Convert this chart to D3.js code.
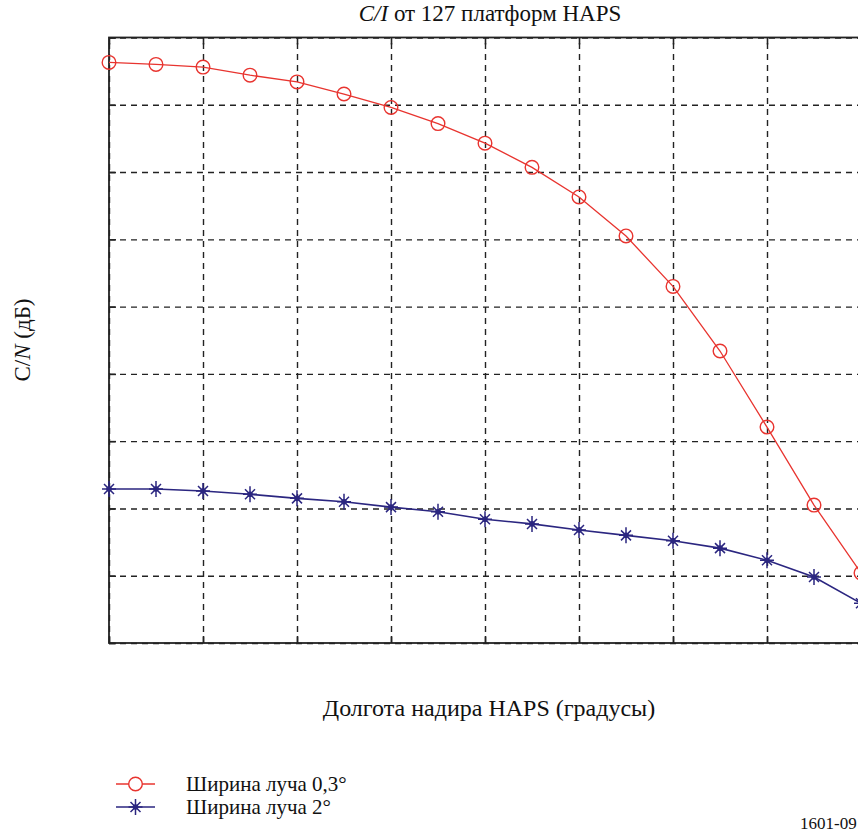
<!DOCTYPE html>
<html>
<head>
<meta charset="utf-8">
<script src="https://cdn.jsdelivr.net/npm/d3@7"></script>
<style>
  html, body { margin: 0; padding: 0; background: #fff; }
  svg { display: block; overflow: hidden; }
  text { font-family: "Liberation Serif", "DejaVu Serif", serif; fill: #111; }
</style>
</head>
<body>
<svg id="chart"></svg>
<script>
// longitude steps (grid units, no labels shown on the original)
const longitudes = [0, 0.5, 1, 1.5, 2, 2.5, 3, 3.5, 4, 4.5, 5, 5.5, 6, 6.5, 7, 7.5, 8];
// C/N, in grid units (no tick labels shown)
const beam03 = [8.63, 8.60, 8.56, 8.44, 8.34, 8.16, 7.96, 7.72, 7.43, 7.07, 6.63, 6.05, 5.30, 4.34, 3.21, 2.05, 1.04];
const beam2 = [2.29, 2.29, 2.26, 2.21, 2.15, 2.10, 2.02, 1.95, 1.84, 1.77, 1.68, 1.60, 1.52, 1.41, 1.23, 0.98, 0.59];
const xTicks = [0, 1, 2, 3, 4, 5, 6, 7, 8];
const yTicks = [0, 1, 2, 3, 4, 5, 6, 7, 8, 9];
const seriesNames = ["Ширина луча 0,3°", "Ширина луча 2°"];

const W = 858, H = 834;
const margin = {top: 37.5, right: -3, bottom: 191, left: 109};
const innerW = W - margin.left - margin.right;
const innerH = H - margin.top - margin.bottom;

const red = "#e8342f", blue = "#2b2680";

const svg = d3.select("#chart").attr("width", W).attr("height", H);
const g = svg.append("g").attr("transform", `translate(${margin.left},${margin.top})`);

const x = d3.scaleLinear().domain([0, 8]).range([0, innerW]);
const y = d3.scaleLinear().domain([0, 9]).range([innerH, 0]);

// dashed grid
g.append("g")
  .attr("transform", `translate(0,${innerH})`)
  .call(d3.axisBottom(x).tickValues(xTicks).tickSize(-innerH).tickFormat(""))
  .call(a => a.select(".domain").remove())
  .selectAll("line").attr("stroke", "#222").attr("stroke-width", 1.4).attr("stroke-dasharray", "6,5");
g.append("g")
  .call(d3.axisLeft(y).tickValues(yTicks).tickSize(-innerW).tickFormat(""))
  .call(a => a.select(".domain").remove())
  .selectAll("line").attr("stroke", "#222").attr("stroke-width", 1.4).attr("stroke-dasharray", "6,5");

// inward solid ticks
function ticks(axis, tr) {
  const a = g.append("g").attr("transform", tr)
    .call(axis.tickSizeInner(-7).tickSizeOuter(0).tickFormat(""));
  a.select(".domain").remove();
  a.selectAll("line").attr("stroke", "#222").attr("stroke-width", 1.6);
}
ticks(d3.axisBottom(x).tickValues(xTicks), `translate(0,${innerH})`);
ticks(d3.axisTop(x).tickValues(xTicks), "translate(0,0)");
ticks(d3.axisLeft(y).tickValues(yTicks), "translate(0,0)");

// frame
g.append("rect").attr("width", innerW).attr("height", innerH)
  .attr("fill", "none").attr("stroke", "#222").attr("stroke-width", 1.8);

const line = d3.line().x((d, i) => x(longitudes[i])).y(d => y(d));

// red series
g.append("path").datum(beam03).attr("d", line)
  .attr("fill", "none").attr("stroke", red).attr("stroke-width", 1.3);
g.selectAll(".c").data(beam03).join("circle")
  .attr("cx", (d, i) => x(longitudes[i])).attr("cy", d => y(d)).attr("r", 6.8)
  .attr("fill", "none").attr("stroke", red).attr("stroke-width", 1.4);

// blue series
const star = "M0,-8V8M-7,0H7M-5,-5L5,5M-5,5L5,-5";
g.append("path").datum(beam2).attr("d", line)
  .attr("fill", "none").attr("stroke", blue).attr("stroke-width", 1.6);
const st = g.selectAll(".s").data(beam2).join("g")
  .attr("transform", (d, i) => `translate(${x(longitudes[i])},${y(d)})`);
st.append("path").attr("d", star).attr("stroke", blue).attr("stroke-width", 1.5).attr("fill", "none");
st.append("circle").attr("r", 2.8).attr("fill", blue);

// texts
const title = svg.append("text").attr("x", 490).attr("y", 21)
  .attr("text-anchor", "middle").attr("font-size", 23);
title.append("tspan").attr("font-style", "italic").text("C/I");
title.append("tspan").text(" от 127 платформ HAPS");

svg.append("text").attr("x", 489).attr("y", 716)
  .attr("text-anchor", "middle").attr("font-size", 24)
  .text("Долгота надира HAPS (градусы)");

const yl = svg.append("text").attr("transform", "translate(30,340) rotate(-90)")
  .attr("text-anchor", "middle").attr("font-size", 23);
yl.append("tspan").text("C/");
yl.append("tspan").attr("font-style", "italic").text("N");
yl.append("tspan").text(" (дБ)");

// legend
const lg = svg.append("g").attr("transform", "translate(116,784)");
[red, blue].forEach((c, i) => {
  const row = lg.append("g").attr("transform", `translate(0,${i * 23})`);
  row.append("line").attr("x1", 0).attr("x2", 39).attr("stroke", c).attr("stroke-width", i ? 1.6 : 1.3);
  if (i === 0) {
    row.append("circle").attr("cx", 19.5).attr("r", 6.8).attr("fill", "#fff").attr("stroke", c).attr("stroke-width", 1.4);
  } else {
    row.append("path").attr("transform", "translate(19.5,0)").attr("d", star).attr("stroke", c).attr("stroke-width", 1.5);
    row.append("circle").attr("cx", 19.5).attr("r", 2.8).attr("fill", c);
  }
  row.append("text").attr("x", 70).attr("y", 7).attr("font-size", 21).text(seriesNames[i]);
});

svg.append("text").attr("x", 800).attr("y", 829).attr("font-size", 17).text("1601-09");
</script>
</body>
</html>
